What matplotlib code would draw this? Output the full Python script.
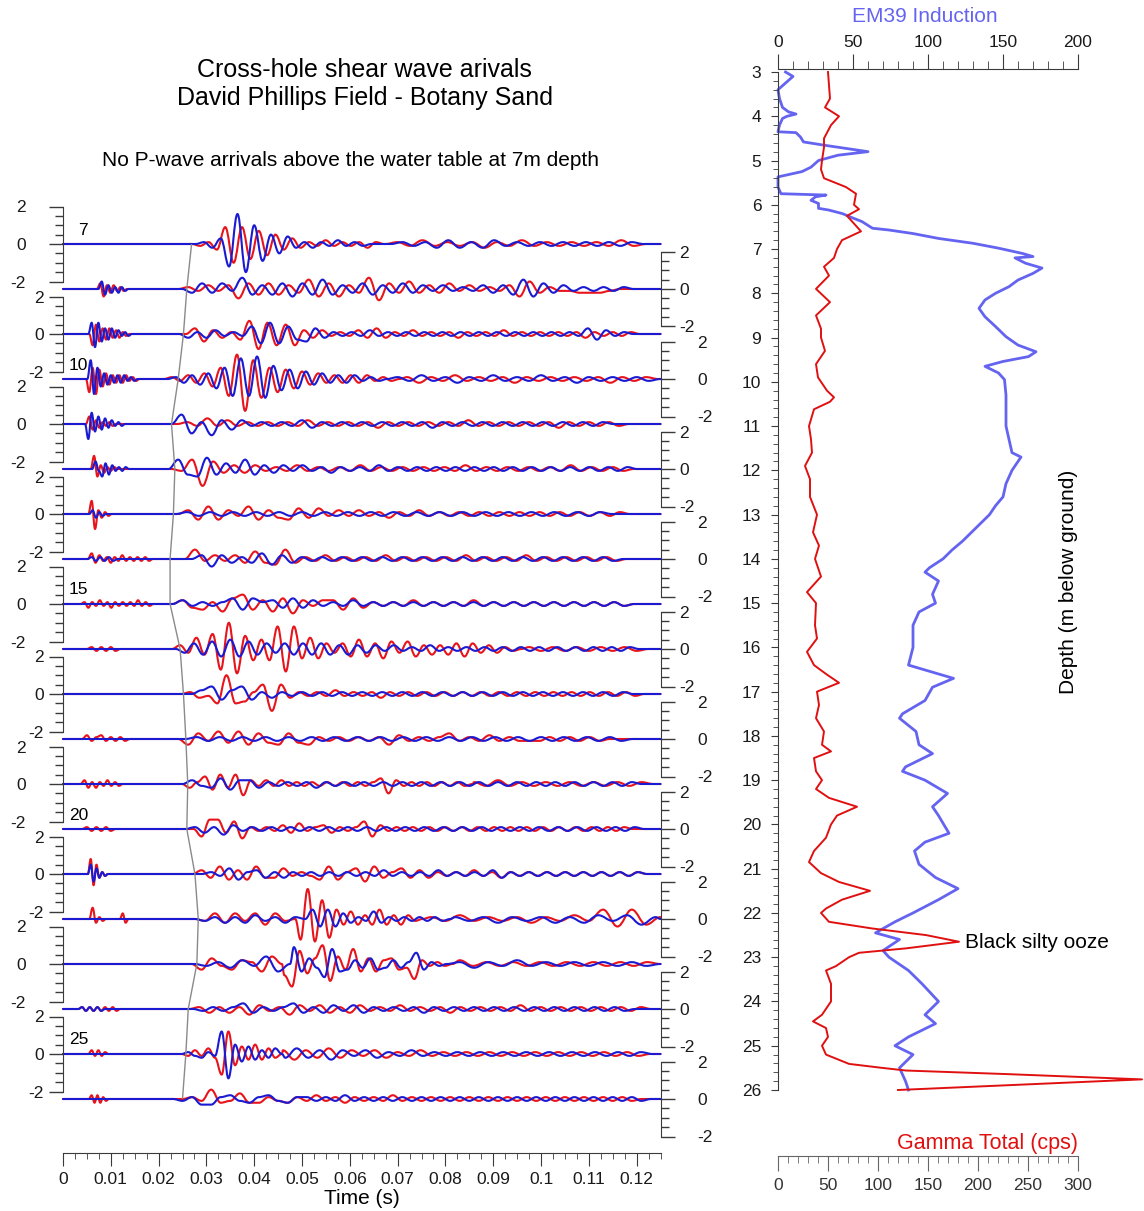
import numpy as np
import matplotlib
matplotlib.use("Agg")
import matplotlib.pyplot as plt
from matplotlib.ticker import MultipleLocator, FuncFormatter
from matplotlib.path import Path
from matplotlib.patches import PathPatch

plt.rcParams['font.family'] = ['Liberation Sans', 'DejaVu Sans']
plt.rcParams['axes.unicode_minus'] = False

# =========================
# Data
# =========================
depths = list(range(7, 27))
# picked first S arrival (s) per trace (grey line)
pick_times = [0.0269, 0.0259, 0.0252, 0.0241, 0.0227, 0.0234, 0.0231, 0.0224, 0.0224, 0.0245,
              0.0252, 0.0257, 0.0261, 0.0259, 0.0276, 0.0283, 0.0280, 0.0262, 0.0257, 0.0250]

# wave packets per trace: (start time, half period, extrema amplitudes in tenths)
red_traces = {
    7: [(0.0287, 0.00175, [-1, 1, -3, 9, -10, 9, -8, 7, -6, 5, -3, 3, -2, 1, -1, 2, -1, 1, -1, 1, -2, 1]),
        (0.0700, 0.0026, [1, -1, 2, -1, 1, -1, 1, -2, 1, -1, 2, -1, 1, -1, 1, -1, 1, -1, 2, -1])],
    8: [(0.0078, 0.0007, [3, -4, 2, -2, 2, -1, 1, -1]),
        (0.0262, 0.0021, [1, -1, 2, -1, 2, -5, 3, -3, 3, -3, 2, -2, 5, -4, 3, -4, 2, -2, 6, -6, 3, -2, 4, -2, 2,
                          -2, 3, -1, 2, -1, 1, -1, 2, -4, 4, -2, 1, -1, -1, -2, -2, -2, -1])],
    9: [(0.0062, 0.0007, [-6, 5, -4, 3, -3, 3, -2, 2, -2, 1, -1]),
        (0.0276, 0.0019, [3, -4, 2, -2, 1, -3, 7, -8, 6, -6, 5, -6, 2, -2, 2, -1, 1, -1, 2, -2, 3, -2, 1, -1, 2,
                          -1, 1, -1, 1, -2, 1, -1, 1, -1, 2, -1, 1, -1, 1, -1, 1, -1, 1, -2, 1, -1, 1, -1, 1])],
    10: [(0.0055, 0.0007, [-7, 6, -8, 5, -4, 3, -3, 2, -2, 2, -2, 2, -1, 1, -1]),
         (0.0228, 0.0017, [1, -1, 2, -2, 3, -4, 6, -9, 13, -17, 10, -10, 6, -7, 5, -5, 4, -3, 3, -2, 2, -2, 2, -2,
                           2, -1, 1, -1]),
         (0.0720, 0.0025, [1, -2, 1, -1, 2, -1, 1, -1, 1, -2, 1, -1, 1, -1, 1, -1, 1, -2, 1, -1, 1])],
    11: [(0.0055, 0.0007, [4, -3, 2, -2, 1, -1, 1, -1]),
         (0.0260, 0.0021, [1, -1, 3, -1, 2, -1, 1, -1, 1, -1, 1, -1, 2, -1, 1, -1, 1, -1, 1, -2, 1, -1, 1, -1, 1,
                           -1, 1, -1, 2, -1, 1, -1, 1, -1, 1, -1, 1, -2, 1, -1, 1, -1, 1, -1])],
    12: [(0.0065, 0.0007, [7, -4, 2, -2, 1, -1, 1]),
         (0.0248, 0.0022, [-1, 5, -9, 4, -2, 2, -2, 2, -1, 1, -1, 2, -1, 1, -1, 1, -1, 2, -1, 1, -1, 1, -1, 1,
                           -1, 1, -1, 2, -1, 1, -1, 1, -1, 1, -1, 1, -1, 2, -1, 1, -1, 1, -1])],
    13: [(0.0060, 0.0007, [7, -8, 2, -2, 1, -1]),
         (0.0262, 0.0021, [2, -3, 4, -3, 2, -1, 4, -3, 2, -2, -3, 3, -2, 3, -1, 2, -1, 2, -1, 1, -2, 1, -1, 2,
                           -1, 1, -1, 1, -1, 1, -1, 1, -1, 1, -1, 1, -1, 1, -1, 1, -1, 1, -1, 1])],
    14: [(0.0060, 0.0008, [3, -2, 2, -1, 1, -2, 1, -1, 2, -1, 1, -1, 1, -1, 1, -1]),
         (0.0276, 0.0021, [5, -1, 2, -1, 2, -2, 4, -2, -3, 5, -2, 1, -1, 2, -1, 1, -1, 1, -1, 2, -1, 1, -1, 1,
                           -1, 1, -1, 2, -1, 1, -1, 1, -1, 2, -1, 1, -1, 1, -1, 1, -1, 1, -1])],
    15: [(0.0045, 0.0008, [1, -2, 1, -1, 2, -1, 1, -2, 1, -1, 1, -1, 1, -1, 2, -1, 1, -1]),
         (0.0250, 0.0021, [2, -2, -3, 1, -4, 3, 5, -3, 2, -4, 3, -5, 2, -1, 2, 2, -3, 3, -2, 1, -1, 1, -1, 2,
                           -1, 1, -1, 1, -1, 2, -1, 1, -1, 1, -1, 1, -1, 1, -1, 1, -1, 1, -1, 1, -1])],
    16: [(0.0060, 0.0010, [1, -1, 1, -1, 1, -1]),
         (0.0245, 0.0017, [2, -2, 6, -3, 8, -11, 14, -13, 7, -6, 5, -6, 12, -12, 12, -5, 6, -5, 3, -2, 3, -4,
                           5, -4, 3, -5, 4, -2, 4, -4, 2, -3, 2, -3, 3, -4, 3, -2, 2, -2, 1, -1]),
         (0.0975, 0.0025, [1, -1, 1, -1, 1, -1, 1, -1, 1, -1])],
    17: [(0.0266, 0.0019, [1, -2, -1, -5, 10, -5, -4, 1, 5, -9, 5, -2, 1, -1, 1, -1, 2, -1, 1, -1, 1, -2, 1,
                           -1, 1, -1, 1, -1, 1, -1, 1, -1, 1, -1, 1, -1, 1, -1, 1, -1, 1, -1, 1, -1, 1, -1, 1,
                           -1, 1, -1])],
    18: [(0.0050, 0.0010, [2, -1, 1, 2, -1, 1, -1, 1, -1]),
         (0.0262, 0.0021, [-3, 3, -1, 4, -2, 4, -3, 3, -2, -3, 3, -2, -3, 1, -1, 1, -1, 1, -1, 1, -3, 2, -1, 1,
                           -1, 1, 3, -1, 1, -1, 2, -1, 1, -1, -1, -1, 1, -1, 1, -1, 1, -1])],
    19: [(0.0045, 0.0008, [2, -2, 1, -2, 1, -1, 2, -1, 1, -1]),
         (0.0265, 0.0016, [-2, 1, 4, -3, 5, -2, 5, -6, 2, -1, 2, -1, 2, -1, 1, -1, 1, -1, 1, -1, 1, -1, 1, -1,
                           1, 3, -5, 2, -1, 1, -1, 1, -1, 1, -1, 1, -1]),
         (0.0860, 0.0025, [1, -1, 2, -1, 1, -1, 1, -1, 1, -1, 1, -1, 1, -1, 1])],
    20: [(0.0050, 0.0010, [1, -1, 1, -1, 1, -1]),
         (0.0290, 0.0017, [-4, 5, 5, -2, 4, -5, 1, -1, 1, -1, 2, -2, 3, -1, 1, 2, -2, 1, -1, 1, 4, -4, 2, -1,
                           1, -1, 1, -1, 1, -1, 1, -1, 1, -1, 1, -1, 1, -1, 1, -1, 1, -1, 1, -1, 1, -1, 1, -1,
                           1, -1, 1, -1, 1])],
    21: [(0.0058, 0.0006, [8, -6, 5, -2, 1, -1]),
         (0.0290, 0.0019, [2, -2, 4, -3, 2, -3, 4, -2, -2, 3, -1, 1, -1, -3, 4, -3, 1, 3, -4, 4, -2, 1, 3, -2,
                           2, -2, 1, -1, 1, -1, 2, -1, 1, -2, 1, -1, 1, -1, 1, -1, 1, -1, 1, -1, 1, -1, 1, -1,
                           1])],
    22: [(0.0062, 0.0007, [6, -2, 1, -1]),
         (0.0125, 0.0006, [3, -2]),
         (0.0297, 0.0021, [-1, 3, -2, 3, -1, 3, -3, 3, -1]),
         (0.0482, 0.0015, [10, -11, 16, -12, 10, -10, 5, -3, 4, -3, 2, -3, 5, -3, 2, -3, 2, -1]),
         (0.0770, 0.0030, [1, -1, 2, -1, 1, -1, 1, -2, 1, -1, 2, -1, 5, -4, 5, -3, 1])],
    23: [(0.0290, 0.0021, [-3, 3, -1, -3, 2, 1, -4, 4]),
         (0.0447, 0.0016, [14, -6, -12, 7, -5, 3, 10, -9, 4, -3, 8, -4, 3, -4, 2, 3, -3, -2, -8, 2, -1, 1, -1]),
         (0.0830, 0.0028, [2, -1, 1, -1, 1, -1, 1, -1, 1, -1, 1, -1, 1, -1, 1])],
    24: [(0.0040, 0.0008, [1, -1, 1, -1, 1, -1, 1, -1, 1, -1]),
         (0.0285, 0.0021, [1, -2, 1, -2, 1, -3, 2, -1, 1, -3, 2, -1, 2, -2, 1, -2, 2, -1, 1, -1, 2, -1, 1, -1,
                           1, -2, 1, -1, 1, -1, 1, -1, 2, -1, 1, -1, 1, -1, 1, -1, 1, -1, 1, -1, 1])],
    25: [(0.0060, 0.0007, [2, -1, 2, -1, 1]),
         (0.0262, 0.0014, [-1, 2, -1, 3, -2, -11, 12, -6, 4, -3, 5, -3, 3, -2]),
         (0.0460, 0.0024, [2, -3, 2, -2, 3, -2, 2, -1, 2, -2, 1, -1, 2, -1, 1, -1, 1, -1, 1, -1, 1, -1, 1, -1,
                           1, -1, 1, -1, 1, -1, 1, -1])],
    26: [(0.0060, 0.0006, [2, -2, 2, -2, 1, -1]),
         (0.0270, 0.0020, [1, -1, 5, -2, -1, 3, -2, -2, 1, -1, -2, 1, -1, 2, -1, 1, -2, 1, -1, 1, -1, 2, -1, 1,
                           -1, 1, -1, 1, -1, 1, -1, 1, -1, 1, -1, 1, -1, 1, -1, 1, -1, 1, -1, 1, -1, 1, -1])],
}

blue_traces = {
    7: [(0.0295, 0.00175, [1, -2, 3, -12, 16, -15, 10, -9, 5, -5, 4, -2, 1, -2, 1, -1, 2, -1, 1, -1]),
        (0.0710, 0.0024, [1, -1, 1, -2, 2, -2, 1, -2, 2, -1, 1, -1, 1, -1, 1, -1, 1, -1, 1, -1, 1])],
    8: [(0.0081, 0.0007, [4, -3, 2, -2, 1, -2, 1, -1]),
        (0.0270, 0.0021, [-2, 3, -2, 3, -1, 6, -3, 2, -3, 3, -4, 3, -3, 5, -3, 2, -2, 3, -3, 2, -2, 3, -2, 2,
                          -1, 2, -1, 1, -1, 2, -2, 2, -3, 5, -4, 3, -2, 2, -1, 1, -1, 1, -1, 1])],
    9: [(0.0060, 0.0007, [6, -7, 6, -4, 3, -3, 3, -2, 2, -1, 1, -1]),
        (0.0262, 0.0019, [-2, 1, -2, 2, -1, 1, -1, 4, -5, 6, -5, 4, -3, -4, 3, -2, 1, -1, 1, -1, 2, -1, 1, -1,
                          1, -1, 1, -1, 1, -1, 1, -1, 1, -1, 1, -1, 1, -1, 1, -1, 1, -1, 1, -1, 3, -3, 2, -1, 1])],
    10: [(0.0058, 0.0007, [10, -8, 6, -4, 3, -3, 2, -2, 2, -2, 2, -1, 1, -1]),
         (0.0236, 0.0017, [1, -2, 2, -3, 3, -5, 6, -9, 11, -9, 12, -10, 7, -6, 5, -5, 4, -3, 3, -2, 2, -2, 2,
                           -1, 1, -1]),
         (0.0700, 0.0025, [1, -1, 2, -1, 1, -2, 1, -1, 2, -1, 1, -1, 2, -1, 1, -2, 1, -1, 1, -1, 1, -1])],
    11: [(0.0053, 0.0007, [-8, 6, -4, 4, -3, 3, -2, 2, -1, 1, -1]),
         (0.0248, 0.0021, [5, -5, 1, -6, 2, -3, 2, -1, 1, -1, 1, -1, 2, -2, 1, -1, 1, -1, 1, -1, 1, -1, 1, -1,
                           1, -2, 1, -1, 1, -1, 1, -1, 1, -1, 1, -1, 1, -1, 1, -1, 1, -1, 1])],
    12: [(0.0068, 0.0007, [4, -1, -4, 3, -3, 2, -1, 1, -1, 1]),
         (0.0241, 0.0020, [5, -3, -4, 6, -3, 3, -2, 5, -3, 2, -2, 2, -1, 2, -1, 1, -2, 1, -1, 1, -1, 2, -1, 1,
                           -1, 1, -1, 1, -1, 1, -1, 1, -1, 1, -1, 1, -1, 1, -1, 1, -1, 1, -1, 1, -1, 1, -1, 1])],
    13: [(0.0062, 0.0007, [2, -2, 1, -1]),
         (0.0260, 0.0024, [1, -1, 1, -1, 1, -1, 1, -1, 1, -1, 1, -1, 1, -1, 1, -1, 1, -1, 1, -1, 1, -1, 1, -1,
                           1, -1, 1, -1, 1, -1, 1, -1, 1, -1, 1, -1, 1])],
    14: [(0.0060, 0.0009, [1, -1, 1, -1, 1, -1]),
         (0.0290, 0.0021, [2, -4, 2, -2, 1, -2, 3, -3, 2, -2, 1, -1, 1, -1, 1, -1, 1, -1, 1, -1, 1, -1, 1, -1,
                           1, -1, 1, -1, 1, -1, 1, -1, 1, -1, 1, -1, 1, -1, 1, -1, 1, -1])],
    15: [(0.0250, 0.0021, [2, -1, 1, -1, 1, 3, -3, 3, 1, 2, -2, 3, -2, 2, -1, 1, -1, 2, -1, 1, -1, 1, -1, 1,
                           -1, 1, -1, 1, -1, 1, -1, 1, -1, 1, -1, 1, -1, 1, -1, 1, -1, 1, -1, 1, -1])],
    16: [(0.0255, 0.0019, [-2, 3, -3, 4, -4, 5, -4, 4, -3, 3, -2, 3, -3, 3, -3, 3, -3, 2, -3, 2, -2, 2, -1,
                           2, -1, 1, -1, 2, -1, 1, -1, 1, -1, 1, -1, 1, -1, 1, -1, 1, -1, 1, -1, 1, -1, 1, -1,
                           1, -1, 1])],
    17: [(0.0290, 0.0021, [2, 4, -3, 2, 4, -3, 1, -2, 1, -1, 1, -1, 1, -1, 1, -1, 1, -1, 1, -1, 1, -1, 1, -1,
                           1, -1, 1, -1, 1, -1, 1, -1, 1, -1, 1, -1, 1, -1, 1, -1, 1, -1, 1])],
    18: [(0.0280, 0.0024, [1, -1, 1, -1, 1, -1, 1, -1, 1, -1, 1, -1, 1, -1, 1, -1, 1, -1, 1, -1, 1, -1, 1, -1,
                           1, -1, 1, -1, 1, -1, 1, -1, 1, -1, 1, -1, 1, -1])],
    19: [(0.0270, 0.0020, [2, -1, -2, 3, -3, 2, 2, -2, 1, -1, 1, -1, 1, -2, 1, -1, 1, -1, 1, -1, 1, -1, 1,
                           -1, 1, -1, 1, -1, 1, -1, 1, -1, 1, -1, 1, -1, 1, -1, 1, -1, 1, -1, 1, -1, 1, -1, 1])],
    20: [(0.0276, 0.0020, [1, -2, 1, -3, 2, -1, 1, -1, 1, -1, 1, -1, 1, -1, 1, -1, 1, -1, 1, -1, 1, -1, 1,
                           -1, 1, -1, 1, -1, 1, -1, 1, -1, 1, -1, 1, -1, 1, -1, 1, -1, 1, -1, 1, -1, 1, -1, 1])],
    21: [(0.0058, 0.0006, [5, -4, 3, -2, 1, -1]),
         (0.0310, 0.0019, [1, -1, 3, -3, 1, 2, -2, 1, -2, 1, -1, 1, -1, 1, -1, 1, -1, 1, -1, 2, -1, 1, -1, 1,
                           -1, 2, -1, 1, -1, 1, -1, 2, -2, 1, -1, 1, -1, 1, -1, 1, -1, 1, -1, 1, -1, 1, -1, 1])],
    22: [(0.0297, 0.0021, [-1, 1, -2, 1, -2, 2, -1, 1, -2, 1]),
         (0.0506, 0.0016, [-7, 5, -4, 5, -4, 3, -2, 1, -1, 4, -2, 1, -1, 1, -1, 1, -1, 1, -1]),
         (0.0820, 0.0030, [1, -1, 1, -2, 1, -1, 1, -2, 1, -2, 2, -1, 2, -3, 1])],
    23: [(0.0300, 0.0025, [-1, 1, -2, 2, -1, 4, -4]),
         (0.0451, 0.0016, [-12, 8, 9, -4, 3, -2, -7, 8, -4, -3, 2, -2, 3, -3, -2, 2, -2, 1, 6, -3, 1, -1]),
         (0.0830, 0.0030, [1, -2, 1, -1, 2, -1, 1, -1, 1, -1, 1, -1, 1, -1])],
    24: [(0.0040, 0.0008, [1, -1, 1, -1, 1, -1]),
         (0.0293, 0.0021, [-1, 1, -1, 1, 3, -2, 1, -1, 1, 3, -2, 1, -2, 2, -1, 2, -2, 1, -1, 1, -1, 1, -2, 1,
                           -1, 1, -1, 1, -1, 1, -1, 1, -1, 1, -1, 1, -1, 1, -1, 1, -1, 1, -1])],
    25: [(0.0262, 0.0014, [1, -1, -2, 1, -1, 12, -13, 5, -4, 4, -3, 2, -2, 3]),
         (0.0465, 0.0024, [-2, 3, -2, 2, -3, 2, -1, 2, -2, 1, -1, 2, -1, 1, -1, 1, -1, 1, -1, 1, -1, 1, -1, 1,
                           -1, 1, -1, 1, -1, 1, -1, 1])],
    26: [(0.0250, 0.0020, [-1, 1, -3, -3, 1, 2, -1, -2, 1, 2, -1, -2, 1, 1, -1, 1, -1, 2, -1, 1, -1, 1, -1, 1,
                           -1, 1, -1, 1, -1, 1, -1, 1, -1, 1, -1, 1, -1, 1, -1, 1, -1, 1, -1, 1, -1, 1, -1, 1,
                           -1])],
}

# well logs
em_depth = [3.0, 3.1, 3.25, 3.4, 3.6, 3.8, 3.9, 3.95, 4.0, 4.05, 4.2, 4.35, 4.37, 4.47, 4.58, 4.65, 4.7, 4.8,
            4.88, 5.0, 5.15, 5.25, 5.37, 5.6, 5.75, 5.78, 5.82, 5.9, 5.97, 6.08, 6.12, 6.2, 6.3, 6.38, 6.53,
            6.57, 6.65, 6.76, 6.87, 6.98, 7.1, 7.17, 7.2, 7.32, 7.43, 7.55, 7.7, 7.85, 8.0, 8.15, 8.34, 8.53,
            8.75, 8.98, 9.17, 9.32, 9.43, 9.54, 9.65, 9.8, 9.95, 10.3, 10.6, 11.0, 11.3, 11.6, 11.7, 12.0, 12.3,
            12.6, 12.8, 13.0, 13.3, 13.6, 13.8, 14.0, 14.2, 14.3, 14.5, 14.8, 15.0, 15.2, 15.5, 16.0, 16.4,
            16.6, 16.7, 16.9, 17.2, 17.5, 17.6, 17.9, 18.2, 18.4, 18.7, 18.8, 19.0, 19.3, 19.6, 19.8, 20.2,
            20.4, 20.6, 20.9, 21.2, 21.45, 21.7, 22.0, 22.2, 22.45, 22.6, 22.85, 23.0, 23.3, 23.6, 24.0, 24.3,
            24.5, 24.8, 25.0, 25.2, 25.5, 25.8, 26.0]
em_value = [5, 10, 5, 0, 1, 3, 7, 12, 6, 3, 1, 0, 12, 15, 17, 30, 40, 60, 40, 27, 22, 16, 0, 0, 2, 32, 25, 22,
            27, 27, 34, 43, 50, 56, 63, 74, 90, 107, 130, 147, 163, 170, 158, 165, 176, 170, 160, 154, 145,
            138, 134, 138, 145, 152, 160, 172, 167, 150, 138, 147, 151, 152, 152, 152, 154, 156, 162, 156, 152,
            150, 145, 141, 132, 123, 116, 110, 101, 98, 107, 103, 105, 94, 90, 90, 87, 107, 117, 103, 98, 83,
            81, 92, 94, 103, 85, 83, 98, 113, 103, 107, 114, 98, 91, 94, 105, 120, 107, 90, 78, 65, 81, 70, 74,
            87, 96, 107, 98, 105, 87, 78, 90, 81, 85, 87]

gamma_depth = [3.0, 3.3, 3.6, 3.8, 4.0, 4.2, 4.5, 4.7, 5.0, 5.2, 5.4, 5.6, 5.75, 6.0, 6.1, 6.25, 6.5, 6.6, 6.8,
               7.0, 7.2, 7.4, 7.6, 7.9, 8.2, 8.5, 8.8, 9.0, 9.3, 9.6, 9.9, 10.2, 10.35, 10.45, 10.62, 11.0,
               11.3, 11.6, 11.9, 12.2, 12.6, 13.0, 13.4, 13.7, 14.0, 14.4, 14.75, 15.0, 15.5, 15.8, 16.1, 16.4,
               16.6, 16.8, 17.0, 17.3, 17.6, 17.9, 18.2, 18.35, 18.5, 18.8, 19.0, 19.2, 19.4, 19.6, 19.8, 20.0,
               20.3, 20.6, 20.85, 21.1, 21.3, 21.5, 21.7, 21.9, 22.0, 22.2, 22.35, 22.5, 22.65, 22.8, 22.9,
               23.0, 23.2, 23.3, 23.6, 24.0, 24.3, 24.45, 24.6, 24.8, 25.0, 25.2, 25.41, 25.5, 25.56, 25.64,
               25.76, 26.0]
gamma_value = [50, 51, 52, 47, 61, 53, 46, 46, 44, 43, 46, 68, 78, 76, 81, 69, 79, 83, 64, 59, 56, 46, 51, 38,
               52, 38, 43, 43, 47, 38, 40, 49, 56, 52, 36, 31, 33, 34, 27, 32, 32, 39, 35, 41, 37, 43, 29, 38,
               37, 39, 29, 36, 48, 61, 39, 41, 38, 46, 44, 53, 36, 38, 44, 38, 51, 79, 59, 53, 48, 36, 31, 43,
               61, 92, 64, 48, 43, 51, 94, 148, 181, 128, 81, 71, 58, 48, 53, 53, 44, 35, 48, 50, 44, 48, 71,
               104, 128, 228, 364, 120]

# =========================
# Figure
# =========================
W, H = 1144, 1211
fig = plt.figure(figsize=(W / 100, H / 100), dpi=100)
PT = 0.72  # points per pixel


def fx(px):
    return px / W


def fy(py):
    return 1 - py / H


def build_trace(packets):
    ts, vs = [0.0], [0.0]
    for t0, hp, amps in sorted(packets):
        if t0 - hp > ts[-1]:
            ts.append(t0 - hp)
            vs.append(0.0)
        for k, a in enumerate(amps):
            t = t0 + k * hp
            if ts[-1] < t <= 0.125:
                ts.append(t)
                vs.append(a / 10)
        end = t0 + len(amps) * hp
        if ts[-1] < end <= 0.125:
            ts.append(end)
            vs.append(0.0)
    if ts[-1] < 0.125:
        ts.append(0.125)
        vs.append(0.0)
    return ts, vs


def smooth_path(ts, vs):
    # bezier segments with flat tangents at each read extremum
    verts = [(ts[0], vs[0])]
    codes = [Path.MOVETO]
    for k in range(len(ts) - 1):
        dt = (ts[k + 1] - ts[k]) / 2.6
        verts += [(ts[k] + dt, vs[k]), (ts[k + 1] - dt, vs[k + 1]), (ts[k + 1], vs[k + 1])]
        codes += [Path.CURVE4] * 3
    return Path(verts, codes)


RED = '#e8141c'
BLUE = '#1a1ad2'
AXC = '#3a3a3a'
X0, X1 = 63, 660.5
TICK_FS = 12.5

for i, d in enumerate(depths):
    yc = 244 + (d - 7) * 45
    ax = fig.add_axes([fx(X0), fy(yc + 37.5), fx(X1) - fx(X0), 75 / H])
    ax.patch.set_visible(False)
    ax.set_xlim(0, 0.125)
    ax.set_ylim(-2, 2)
    for s in ax.spines.values():
        s.set_visible(False)
    ax.set_xticks([])
    side = 'left' if i % 2 == 0 else 'right'
    ax.spines[side].set_visible(True)
    ax.spines[side].set_color(AXC)
    ax.yaxis.set_ticks_position(side)
    ax.set_yticks([-2, 0, 2])
    ax.yaxis.set_minor_locator(MultipleLocator(0.5))
    far = (i % 4 == 0) if side == 'left' else (i % 4 == 3)
    pad = (23 if far else 5) * PT
    ax.tick_params(axis='y', which='major', direction='out', length=14 * PT, width=1, color=AXC,
                   pad=pad, labelsize=TICK_FS, labelcolor='#1a1a1a')
    ax.tick_params(axis='y', which='minor', direction='out', length=8 * PT, width=1, color=AXC)
    for packets, col in ((red_traces[d], RED), (blue_traces[d], BLUE)):
        ts, vs = build_trace(packets)
        ax.add_patch(PathPatch(smooth_path(ts, vs), fill=False, edgecolor=col, lw=1.5,
                               clip_on=False, capstyle='round', joinstyle='round'))
    if d % 5 == 0 or d == 7:
        fig.text(fx(88), fy(yc - 14), str(d), ha='right', va='center', fontsize=TICK_FS)

# arrival pick line
ax_p = fig.add_axes([fx(X0), fy(1099), fx(X1) - fx(X0), (1099 - 244) / H])
ax_p.set_xlim(0, 0.125)
ax_p.set_ylim(26, 7)
ax_p.axis('off')
ax_p.plot(pick_times, depths, color='#8a8a8a', lw=1.0)

# time axis
ax_t = fig.add_axes([fx(X0), fy(1153), fx(X1) - fx(X0), 1 / H])
ax_t.patch.set_visible(False)
for s in ['left', 'right', 'top']:
    ax_t.spines[s].set_visible(False)
ax_t.spines['bottom'].set_color(AXC)
ax_t.set_xlim(0, 0.125)
ax_t.set_yticks([])
ax_t.xaxis.set_major_locator(MultipleLocator(0.01))
ax_t.xaxis.set_minor_locator(MultipleLocator(0.0025))
ax_t.xaxis.set_major_formatter(FuncFormatter(lambda v, p: f"{v:g}"))
ax_t.tick_params(axis='x', which='major', direction='out', length=13 * PT, color=AXC, pad=4,
                 labelsize=TICK_FS, labelcolor='#1a1a1a')
ax_t.tick_params(axis='x', which='minor', direction='out', length=6 * PT, color=AXC)
fig.text(fx(362), fy(1198), 'Time (s)', ha='center', va='center', fontsize=15)

# titles
fig.text(fx(364), fy(70), 'Cross-hole shear wave arivals', ha='center', va='center', fontsize=18)
fig.text(fx(365), fy(98), 'David Phillips Field - Botany Sand', ha='center', va='center', fontsize=18)
fig.text(fx(350), fy(160), 'No P-wave arrivals above the water table at 7m depth', ha='center',
         va='center', fontsize=15)

# =========================
# Well log panel
# =========================
EMC = '#6464f0'
GRC = '#e01010'
ax_r = fig.add_axes([fx(778), fy(1090), 300 / W, (1090 - 72) / H])
ax_r.set_ylim(26, 3)
ax_r.set_xlim(0, 300)
ax_em = ax_r.twiny()
ax_em.set_xlim(0, 200)
ax_em.set_ylim(26, 3)

ax_em.plot(em_value, em_depth, color=EMC, lw=2.0, clip_on=False)
ax_r.set_zorder(ax_em.get_zorder() + 1)
ax_r.patch.set_visible(False)
ax_r.plot(gamma_value, gamma_depth, color=GRC, lw=1.4, clip_on=False)

for s in ['right', 'top']:
    ax_r.spines[s].set_visible(False)
ax_r.spines['left'].set_color(AXC)
ax_r.spines['bottom'].set_color('#666666')
ax_r.spines['bottom'].set_position(('outward', (1156 - 1090) * PT))
ax_r.yaxis.set_major_locator(MultipleLocator(1))
ax_r.yaxis.set_minor_locator(MultipleLocator(0.2))
ax_r.tick_params(axis='y', which='major', direction='out', length=7 * PT, color=AXC, pad=7,
                 labelsize=TICK_FS, labelcolor='#1a1a1a')
ax_r.tick_params(axis='y', which='minor', direction='out', length=5 * PT, color=AXC)
ax_r.xaxis.set_major_locator(MultipleLocator(50))
ax_r.xaxis.set_minor_locator(MultipleLocator(10))
ax_r.tick_params(axis='x', which='major', direction='out', length=15 * PT, color='#666666', pad=5,
                 labelsize=TICK_FS, labelcolor='#333333')
ax_r.tick_params(axis='x', which='minor', direction='out', length=7 * PT, color='#666666')

for s in ['right', 'bottom', 'left']:
    ax_em.spines[s].set_visible(False)
ax_em.spines['top'].set_color(AXC)
ax_em.spines['top'].set_position(('outward', 3 * PT))
ax_em.xaxis.set_major_locator(MultipleLocator(50))
ax_em.xaxis.set_minor_locator(MultipleLocator(10))
ax_em.tick_params(axis='x', which='major', direction='out', length=15 * PT, color=AXC, pad=3,
                  labelsize=TICK_FS, labelcolor='#1a1a1a')
ax_em.tick_params(axis='x', which='minor', direction='out', length=8 * PT, color=AXC)

fig.text(fx(925), fy(16), 'EM39 Induction', ha='center', va='center', fontsize=15, color=EMC)
fig.text(fx(1078), fy(1143), 'Gamma Total (cps)', ha='right', va='center', fontsize=15.5, color=GRC)
fig.text(fx(1068), fy(582), 'Depth (m below ground)', ha='center', va='center', rotation=90,
         fontsize=15)
fig.text(fx(965), fy(942), 'Black silty ooze', ha='left', va='center', fontsize=15)

fig.savefig('out.png', dpi=100)
